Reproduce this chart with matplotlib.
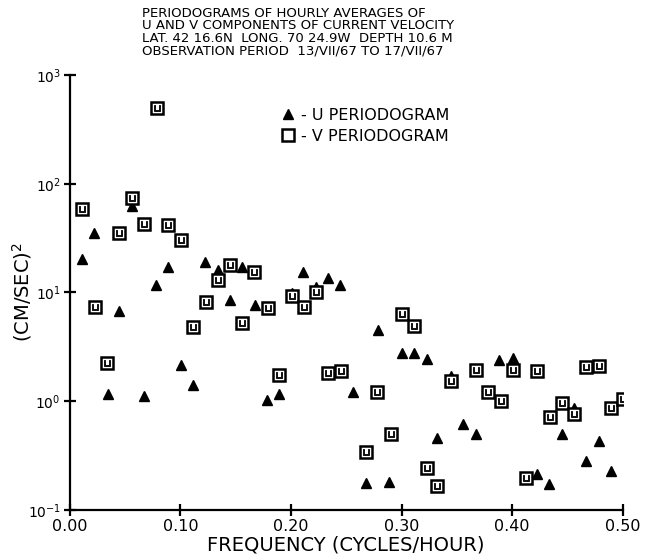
import matplotlib
matplotlib.use("Agg")
import matplotlib.pyplot as plt
from matplotlib.ticker import FixedLocator, NullLocator, FormatStrFormatter

# U periodogram (triangles): frequency (cycles/hour), power (cm/sec)^2
u_freq = [0.0108, 0.0222, 0.0343, 0.0448, 0.0560, 0.0674, 0.0777, 0.0885, 0.1003,
          0.1117, 0.1222, 0.1337, 0.1448, 0.1554, 0.1675, 0.1780, 0.1892, 0.2006,
          0.2111, 0.2226, 0.2337, 0.2443, 0.2558, 0.2675, 0.2784, 0.2889, 0.3004,
          0.3109, 0.3227, 0.3317, 0.3447, 0.3558, 0.3670, 0.3883, 0.4005, 0.4122,
          0.4227, 0.4335, 0.4453, 0.4559, 0.4667, 0.4785, 0.4893]
u_power = [20.2, 35.5, 1.17, 6.8, 62.4, 1.12, 11.6, 17.3, 2.15,
           1.41, 19.2, 16.1, 8.5, 17.1, 7.7, 1.03, 1.17, 9.9,
           15.3, 11.2, 13.5, 11.6, 1.21, 0.176, 4.5, 0.182, 2.76,
           2.79, 2.43, 0.457, 1.71, 0.62, 0.50, 2.39, 2.48, 0.195,
           0.213, 0.172, 0.50, 0.87, 0.284, 0.434, 0.23]

# V periodogram (squares)
v_freq = [0.0113, 0.0228, 0.0334, 0.0445, 0.0560, 0.0671, 0.0786, 0.0891, 0.1005,
          0.1117, 0.1231, 0.1337, 0.1448, 0.1560, 0.1668, 0.1789, 0.1894, 0.2006,
          0.2120, 0.2231, 0.2337, 0.2449, 0.2675, 0.2778, 0.2901, 0.3006, 0.3112,
          0.3227, 0.3317, 0.3447, 0.3673, 0.3784, 0.3896, 0.4005, 0.4122, 0.4227,
          0.4342, 0.4448, 0.4559, 0.4667, 0.4785, 0.4893, 0.5005]
v_power = [58.2, 7.4, 2.26, 35.5, 73.5, 42.7, 494.0, 41.8, 30.4,
           4.84, 8.1, 13.0, 17.9, 5.2, 15.5, 7.2, 1.74, 9.3,
           7.3, 10.1, 1.83, 1.90, 0.344, 1.22, 0.50, 6.4, 4.96,
           0.245, 0.166, 1.53, 1.94, 1.22, 1.01, 1.94, 0.195, 1.91,
           0.72, 0.96, 0.77, 2.05, 2.11, 0.87, 1.05]

x_ticks = [0.0, 0.1, 0.2, 0.3, 0.4, 0.5]
y_ticks = [1e-1, 1e0, 1e1, 1e2, 1e3]

title_lines = ["PERIODOGRAMS OF HOURLY AVERAGES OF",
               "U AND V COMPONENTS OF CURRENT VELOCITY",
               "LAT. 42 16.6N  LONG. 70 24.9W  DEPTH 10.6 M",
               "OBSERVATION PERIOD  13/VII/67 TO 17/VII/67"]

plt.rcParams['font.family'] = 'DejaVu Sans'

fig = plt.figure(figsize=(6.61, 5.59), dpi=100)
ax = fig.add_axes([0.1056, 0.0877, 0.8364, 0.7781])

ax.plot(u_freq, u_power, linestyle='none', marker='^', ms=7.5,
        color='black', mec='black', label='- U PERIODOGRAM')
ax.plot(v_freq, v_power, linestyle='none', marker='s', ms=8,
        mfc='white', mec='black', mew=1.8, label='- V PERIODOGRAM')
# little "u" inside each square, like the plotter symbol
ax.plot(v_freq, v_power, linestyle='none', marker='$\\sqcup$', ms=4.5,
        color='black', mew=0.6)

ax.set_yscale('log')
ax.set_xlim(0, 0.5)
ax.set_ylim(1e-1, 1e3)
ax.xaxis.set_major_locator(FixedLocator(x_ticks))
ax.xaxis.set_major_formatter(FormatStrFormatter('%.2f'))
ax.yaxis.set_major_locator(FixedLocator(y_ticks))
ax.yaxis.set_minor_locator(NullLocator())

for side in ['top', 'right']:
    ax.spines[side].set_visible(False)
for side in ['left', 'bottom']:
    ax.spines[side].set_linewidth(1.6)
ax.tick_params(direction='inout', length=9, width=1.6, pad=2)
ax.tick_params(axis='x', labelsize=11.5)
ax.tick_params(axis='y', labelsize=10)

ax.set_xlabel('FREQUENCY (CYCLES/HOUR)', fontsize=14, labelpad=1)
ax.set_ylabel('(CM/SEC)$^2$', fontsize=14)
ax.yaxis.set_label_coords(-0.064, 0.5)

fig.text(0.215, 0.988, "\n".join(title_lines), ha='left', va='top',
         fontsize=9.5, linespacing=0.97)

ax.legend(loc='upper left', bbox_to_anchor=(0.368, 0.94), frameon=False,
          fontsize=11.5, handletextpad=0.35, handlelength=1.0, labelspacing=0.4,
          borderaxespad=0)

fig.savefig('out.png', dpi=100)
